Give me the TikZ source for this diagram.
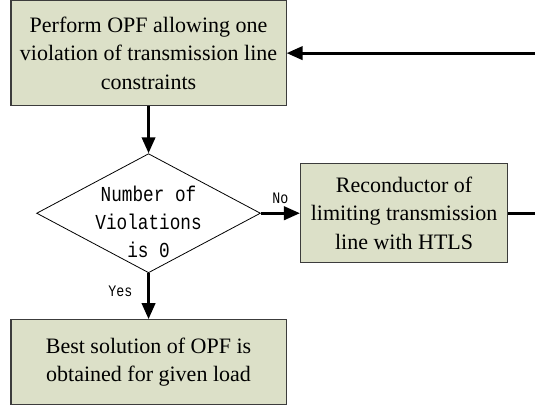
\documentclass[tikz,border=0pt]{standalone}
\usepackage{fontspec}
\setmainfont{Liberation Serif}
\newfontfamily\monofnt[FakeStretch=0.83]{Liberation Mono}
\usetikzlibrary{arrows.meta, shapes.geometric, positioning}
\definecolor{boxfill}{RGB}{220,224,200}
\definecolor{boxline}{RGB}{60,60,60}

\begin{document}
\begin{tikzpicture}[
  node distance=1.24cm and 1.03cm,
  box/.style={draw=boxline, line width=0.8pt, fill=boxfill, minimum width=7.25cm,
              align=center, font=\fontsize{16.5}{21.3}\selectfont},
  decision/.style={diamond, draw, line width=0.6pt, aspect=1.88, inner sep=-0.5cm,
                   minimum width=5.9cm, minimum height=3.14cm, align=center,
                   font=\monofnt\fontsize{16}{21}\selectfont},
  arrow/.style={-{Triangle[length=12pt, width=10pt]}, line width=2.2pt},
  lbl/.style={font=\monofnt\fontsize{12}{14}\selectfont, inner sep=1pt}
]
\useasboundingbox (0,0) rectangle (14.10,-10.73);

\node[box, minimum height=2.77cm] (opf) at (3.915,-1.40)
  {Perform OPF allowing one\\violation of transmission line\\constraints};
\node[decision, below=of opf] (viol) {\rule{0pt}{24pt}Number of\\Violations\\is 0};
\node[box, right=of viol, minimum width=5.46cm, minimum height=2.61cm] (htls)
  {Reconductor of\\limiting transmission\\line with HTLS};
\node[box, below=1.21cm of viol, minimum height=2.24cm] (best)
  {Best solution of OPF is\\obtained for given load};

% loop back, runs out of the frame on the right
\coordinate (rim) at (14.10,0);
\coordinate (loopin) at (opf.east -| rim);
\coordinate (loopout) at (htls.east -| rim);

\draw[arrow] (opf)--(viol);
\draw[arrow] (viol)--node[lbl, above, pos=0.5, yshift=5pt] {No} (htls);
\draw[arrow] (viol)--node[lbl, left, pos=0.4, xshift=-10pt] {Yes} (best);
\draw[line width=2.2pt] (htls)--(loopout);
\draw[arrow] (loopin)--(opf);
\end{tikzpicture}
\end{document}
